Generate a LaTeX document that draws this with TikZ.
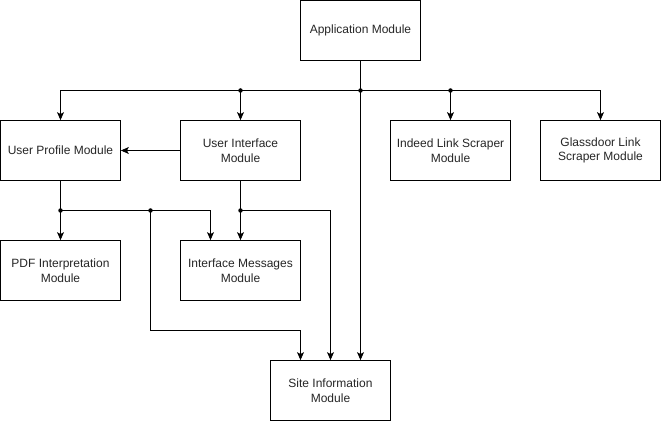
\documentclass[tikz,border=0pt]{standalone}
\usepackage{fontspec}
\setmainfont{Liberation Sans}
\usetikzlibrary{arrows.meta}
\begin{document}
\begin{tikzpicture}[x=1pt,y=-1pt,
  box/.style={draw,line width=0.8pt,minimum width=120pt,minimum height=60pt,inner sep=0pt,align=center,font=\fontsize{12}{14.5}\selectfont,text=black!85},
  conn/.style={line width=0.8pt,-{Stealth[length=8pt,width=7pt,inset=2pt]}},
  ln/.style={line width=0.8pt},
  jdot/.style={circle,fill=black,inner sep=0pt,minimum size=4.5pt}]
\fill[white] (0,0) rectangle (661,422);
\useasboundingbox (0,0) rectangle (661,422);
\node[box] (app) at (360.5,30.5) {Application Module};
\node[box] (up) at (60.5,150.5) {User Profile Module};
\node[box] (ui) at (240.5,150.5) {User Interface\\Module};
\node[box] (ind) at (450.5,150.5) {Indeed Link Scraper\\Module};
\node[box] (gl) at (600.5,150.5) {Glassdoor Link\\Scraper Module};
\node[box] (pdf) at (60.5,270.5) {PDF Interpretation\\Module};
\node[box] (im) at (240.5,270.5) {Interface Messages\\Module};
\node[box] (si) at (330.5,390.5) {Site Information\\Module};
\coordinate (j1) at (360.5,90.5);
\coordinate (j2) at (240.5,90.5);
\coordinate (j3) at (450.5,90.5);
\coordinate (j4) at (60.5,210.5);
\coordinate (j5) at (150.5,210.5);
\coordinate (j6) at (240.5,210.5);
% bus from application
\draw[conn] (app.south) -- (j1) -- (si.north -| j1);
\draw[conn] (j1) -- (j2) -- (ui.north);
\draw[conn] (j2) -| (up.north);
\draw[conn] (j1) -- (j3) -- (ind.north);
\draw[conn] (j3) -| (gl.north);
% UI to UP
\draw[conn] (ui.west) -- (up.east);
% UP down
\draw[conn] (up.south) -- (j4) -- (pdf.north);
\draw[conn] (j4) -- (j5) -| (im.north -| 210.5,0);
\draw[conn] (j5) |- (300.5,330.5) -- (si.north -| 300.5,0);
% UI down
\draw[conn] (ui.south) -- (j6) -- (im.north);
\draw[conn] (j6) -| (si.north);
\foreach \j in {j1,j2,j3,j4,j5,j6} \node[jdot] at (\j) {};
\end{tikzpicture}
\end{document}
